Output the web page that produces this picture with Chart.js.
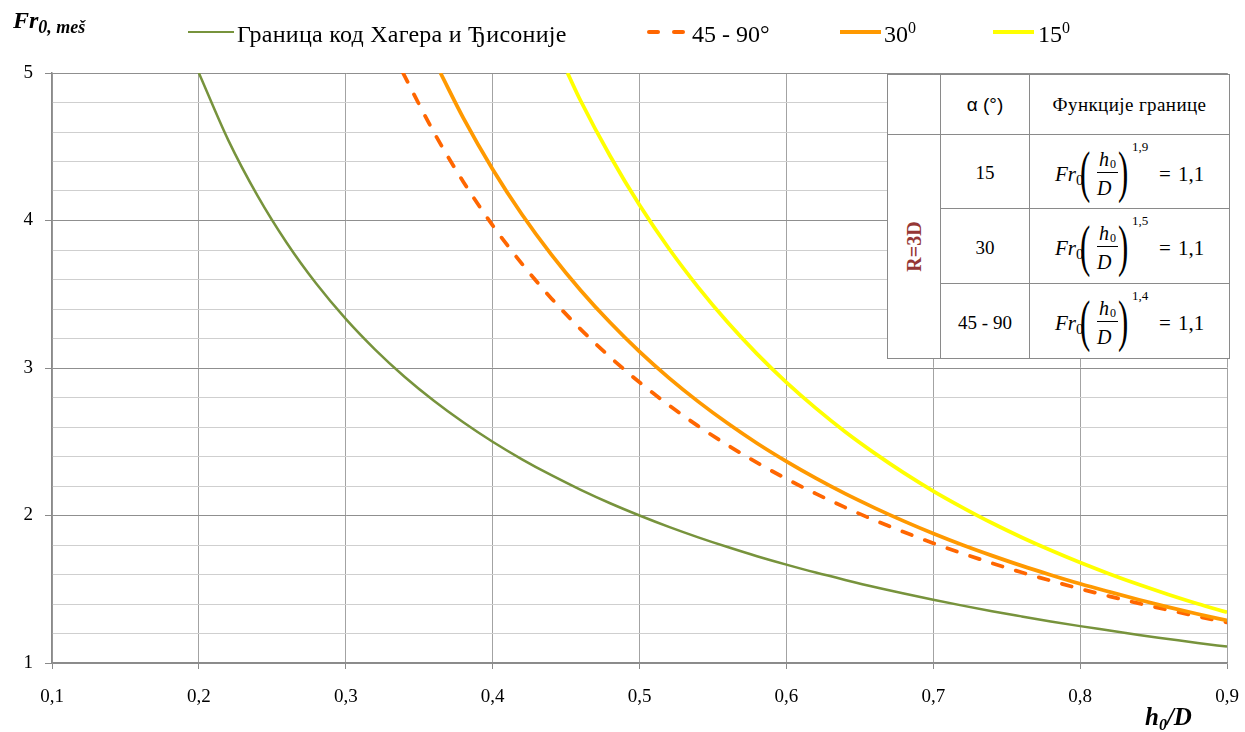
<!DOCTYPE html>
<html>
<head>
<meta charset="utf-8">
<script src="https://cdn.jsdelivr.net/npm/chart.js@4"></script>
<style>
  html, body { margin: 0; padding: 0; background: #fff; }
  #wrap { position: relative; width: 1245px; height: 732px; overflow: hidden; font-family: 'Liberation Serif', serif; }
  #c { position: absolute; left: 0; top: 0; }
  .t { position: absolute; white-space: nowrap; line-height: 1; color: #000; font-family: 'Liberation Serif', serif; }
  .ln { position: absolute; height: 0; }
  .cell { position: absolute; border: 1px solid #8a8a8a; box-sizing: border-box; background: #fff; font-family: 'Liberation Serif', serif; }
  .ctr { display: flex; align-items: center; justify-content: center; }
  .bi { font-weight: bold; font-style: italic; }
</style>
</head>
<body>
<div id="wrap">
  <canvas id="c" width="1245" height="732"></canvas>

  <!-- axis titles -->
  <div class="t bi" style="left:13px; top:8px; font-size:24px;">Fr<span style="font-size:18px; position:relative; top:5px;">0, meš</span></div>
  <div class="t bi" style="left:1145px; top:704px; font-size:25px;">h<span style="font-size:16px; position:relative; top:5px;">0</span>/D</div>

  <!-- legend -->
  <div class="ln" style="left:188px; top:31px; width:46px; border-top:2.5px solid #77933C;"></div>
  <div class="t" style="left:237px; top:22px; font-size:24px; letter-spacing:0.25px;">Граница код Хагера и Ђисоније</div>
  <div class="ln" style="left:647px; top:30px; width:13px; border-top:4px solid #FF6600; border-radius:2px;"></div>
  <div class="ln" style="left:672px; top:30px; width:13px; border-top:4px solid #FF6600; border-radius:2px;"></div>
  <div class="t" style="left:692px; top:22px; font-size:24px;">45 - 90°</div>
  <div class="ln" style="left:840px; top:30px; width:41px; border-top:4px solid #FF9900;"></div>
  <div class="t" style="left:884px; top:22px; font-size:24px;">30<span style="font-size:16px; position:relative; top:-9px;">0</span></div>
  <div class="ln" style="left:993px; top:30px; width:41px; border-top:4px solid #FFFF00;"></div>
  <div class="t" style="left:1038px; top:22px; font-size:24px;">15<span style="font-size:16px; position:relative; top:-9px;">0</span></div>

  <!-- table -->
  <div class="cell" style="left:887px; top:74px; width:343px; height:285px; border:1.5px solid #8a8a8a;"></div>
  <div class="cell" style="left:887px; top:74px; width:54px; height:61px;"></div>
  <div class="cell ctr" style="left:940px; top:74px; width:90px; height:61px; font-family:'Liberation Sans',sans-serif; font-size:19px;">α (°)</div>
  <div class="cell ctr" style="left:1029px; top:74px; width:201px; height:61px; font-size:19px; letter-spacing:0.4px;">Функције границе</div>

  <div class="cell ctr" style="left:887px; top:134px; width:54px; height:225px;">
    <div style="transform:rotate(-90deg); font-weight:bold; font-size:20px; color:#953735; white-space:nowrap;">R=3D</div>
  </div>

  <div class="cell ctr" id="a1" style="left:940px; top:134px; width:90px; height:75px; font-size:19px; padding-top:3px;"></div>
  <div class="cell ctr" id="a2" style="left:940px; top:208px; width:90px; height:76px; font-size:19px; padding-top:3px;"></div>
  <div class="cell ctr" id="a3" style="left:940px; top:283px; width:90px; height:76px; font-size:19px; padding-top:3px;"></div>

  <div class="cell" style="left:1029px; top:134px; width:201px; height:75px;" id="f1"></div>
  <div class="cell" style="left:1029px; top:208px; width:201px; height:76px;" id="f2"></div>
  <div class="cell" style="left:1029px; top:283px; width:201px; height:76px;" id="f3"></div>
</div>

<script>
// ---------------- data ----------------
const xTicksMin = 0.1, xTicksMax = 0.9;
const yTicksMin = 1, yTicksMax = 5;

const legendLabels = ["Граница код Хагера и Ђисоније", "45 - 90°", "30⁰", "15⁰"];

const xHager = [0.20,0.22,0.24,0.26,0.28,0.30,0.32,0.34,0.36,0.38,0.40,0.42,0.44,0.46,0.48,0.50,0.52,0.54,0.56,0.58,0.60,0.62,0.64,0.66,0.68,0.70,0.72,0.74,0.76,0.78,0.80,0.82,0.84,0.86,0.88,0.90];
const yHager = [5.000,4.545,4.167,3.846,3.571,3.333,3.125,2.941,2.778,2.632,2.500,2.381,2.273,2.174,2.083,2.000,1.923,1.852,1.786,1.724,1.667,1.613,1.563,1.515,1.471,1.429,1.389,1.351,1.316,1.282,1.250,1.220,1.190,1.163,1.136,1.111];

const x4590 = [0.339,0.36,0.38,0.40,0.42,0.44,0.46,0.48,0.50,0.52,0.54,0.56,0.58,0.60,0.62,0.64,0.66,0.68,0.70,0.72,0.74,0.76,0.78,0.80,0.82,0.84,0.86,0.88,0.90];
const y4590 = [5.000,4.598,4.263,3.967,3.706,3.472,3.262,3.074,2.903,2.748,2.606,2.477,2.358,2.249,2.148,2.055,1.968,1.888,1.812,1.742,1.677,1.615,1.558,1.503,1.452,1.404,1.359,1.316,1.275];

const x30 = [0.3645,0.38,0.40,0.42,0.44,0.46,0.48,0.50,0.52,0.54,0.56,0.58,0.60,0.62,0.64,0.66,0.68,0.70,0.72,0.74,0.76,0.78,0.80,0.82,0.84,0.86,0.88,0.90];
const y30 = [5.000,4.696,4.348,4.041,3.769,3.526,3.308,3.111,2.933,2.772,2.625,2.490,2.367,2.253,2.148,2.052,1.962,1.878,1.800,1.728,1.660,1.597,1.537,1.482,1.429,1.379,1.332,1.288];

const x15 = [0.451,0.46,0.48,0.50,0.52,0.54,0.56,0.58,0.60,0.62,0.64,0.66,0.68,0.70,0.72,0.74,0.76,0.78,0.80,0.82,0.84,0.86,0.88,0.90];
const y15 = [5.000,4.810,4.437,4.105,3.810,3.547,3.310,3.096,2.903,2.728,2.568,2.423,2.289,2.166,2.054,1.949,1.853,1.764,1.681,1.604,1.532,1.465,1.402,1.344];

// inset table texts
const tableAngles = ["15", "30", "45 - 90"];
const tableExponents = ["1,9", "1,5", "1,4"];
const tableConst = "1,1";

// ---------------- inset table formulas (text) ----------------
function formulaHTML(exp) {
  const S = (l, t, fs, txt, extra) =>
    `<div class="t" style="left:${l}px; top:${t}px; font-size:${fs}px; ${extra||''}">${txt}</div>`;
  return S(25, 28.5, 21, 'Fr', 'font-style:italic;') +
         S(46, 37.5, 15, '0') +
         S(50, 9, 56, '(', 'transform:scaleX(0.55); transform-origin:0 0;') +
         S(69, 14, 20, 'h', 'font-style:italic;') +
         S(80, 23, 12, '0') +
         `<div style="position:absolute; left:67px; top:37px; width:21px; border-top:1px solid #000;"></div>` +
         S(67, 43, 20, 'D', 'font-style:italic;') +
         S(88, 9, 56, ')', 'transform:scaleX(0.55); transform-origin:0 0;') +
         S(102, 5, 13, exp) +
         S(129, 28.5, 21, '=') +
         S(148, 28.5, 21, tableConst);
}
['f1','f2','f3'].forEach((id, i) => { document.getElementById(id).innerHTML = formulaHTML(tableExponents[i]); });
['a1','a2','a3'].forEach((id, i) => { document.getElementById(id).textContent = tableAngles[i]; });

// ---------------- chart ----------------
Chart.defaults.font.family = 'Liberation Serif';
const pts = (xs, ys) => xs.map((x, i) => ({ x: x, y: ys[i] }));
const isMajor = v => Math.abs(v - Math.round(v)) < 1e-6;

new Chart(document.getElementById('c'), {
  type: 'line',
  data: {
    datasets: [
      { label: legendLabels[0], data: pts(xHager, yHager), borderColor: '#77933C', borderWidth: 2.5, order: 4 },
      { label: legendLabels[1], data: pts(x4590, y4590), borderColor: '#FF6600', borderWidth: 3.75, borderDash: [10, 14], borderCapStyle: 'round', order: 3 },
      { label: legendLabels[2], data: pts(x30, y30), borderColor: '#FF9900', borderWidth: 3.75, order: 2 },
      { label: legendLabels[3], data: pts(x15, y15), borderColor: '#FFFF00', borderWidth: 3.75, order: 1 }
    ]
  },
  options: {
    responsive: false,
    animation: false,
    elements: { point: { radius: 0 }, line: { cubicInterpolationMode: 'monotone', fill: false } },
    layout: { padding: { top: 73, right: 18, left: 0, bottom: 0 } },
    plugins: { legend: { display: false }, tooltip: { enabled: false } },
    scales: {
      x: {
        type: 'linear', min: xTicksMin, max: xTicksMax,
        afterFit: s => { s.height = 69; s.paddingRight = 0; s.paddingLeft = 0; },
        ticks: { stepSize: 0.1, padding: 17, color: '#000', maxRotation: 0, autoSkip: false,
                 font: { family: 'Liberation Serif', size: 19 },
                 callback: v => v.toFixed(1).replace('.', ',') },
        grid: { color: '#a3a3a3', lineWidth: 1, tickLength: 6, tickColor: '#8a8a8a' },
        border: { color: '#8a8a8a', width: 1.5 }
      },
      y: {
        type: 'linear', min: yTicksMin, max: yTicksMax,
        afterFit: s => { s.width = 52; },
        ticks: { stepSize: 0.2, padding: 12, color: '#000', autoSkip: false,
                 font: { family: 'Liberation Serif', size: 19 },
                 callback: v => isMajor(v) ? String(Math.round(v)) : '' },
        grid: { color: ctx => isMajor(ctx.tick.value) ? '#8f8f8f' : '#cfcfcf', lineWidth: 1, tickLength: 7,
                tickColor: ctx => isMajor(ctx.tick.value) ? '#8a8a8a' : 'rgba(0,0,0,0)' },
        border: { color: '#8a8a8a', width: 1.5 }
      }
    }
  }
});
</script>
</body>
</html>
